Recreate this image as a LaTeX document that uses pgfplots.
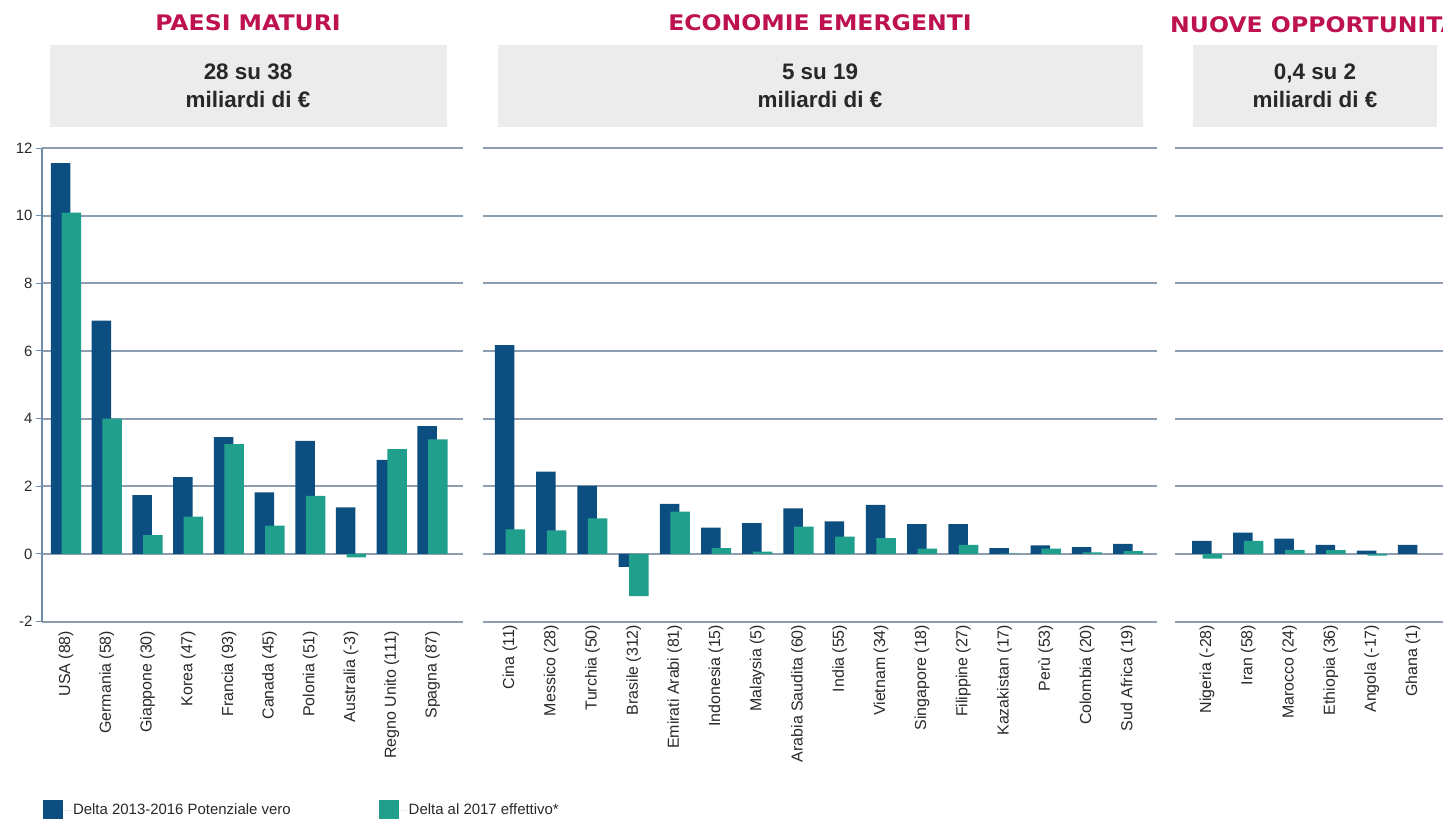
\documentclass[border=0pt]{standalone}
\usepackage{pgfplots}
\pgfplotsset{compat=1.18}
\usepackage{fontspec}
\setmainfont{Liberation Sans}
\newfontfamily\titlefont[FakeStretch=1.1]{DejaVu Sans}
\definecolor{darkb}{RGB}{12,78,128}
\definecolor{tealc}{RGB}{32,160,140}
\definecolor{gridc}{RGB}{140,158,176}
\definecolor{axc}{RGB}{110,140,170}
\definecolor{titc}{RGB}{190,18,80}
\definecolor{boxc}{RGB}{236,236,236}
\definecolor{labc}{RGB}{40,40,40}

\pgfplotsset{
 panel/.style={
   scale only axis, height=473.6bp,
   ymin=-2, ymax=12, ytick={-2,0,2,4,6,8,10,12},
   ymajorgrids, grid style={draw=gridc, line width=1.8bp},
   separate axis lines, axis lines*=left,
   x axis line style={draw=none}, xtick style={draw=none},
   xticklabel style={rotate=90, anchor=east, font=\fontsize{16}{18}\selectfont, text=labc, inner sep=3bp},
   /pgf/number format/assume math mode=true,
   yticklabel style={font=\fontsize{15}{17}\selectfont, text=labc},
   clip=false,
 },
 noy/.style={y axis line style={draw=none}, ytick style={draw=none}, yticklabels={}},
 db/.style={ybar, bar width=19.5bp, bar shift=-5.3bp, fill=darkb, draw=none},
 tb/.style={ybar, bar width=19.5bp, bar shift=5.3bp, fill=tealc, draw=none},
}

\begin{document}
\begin{tikzpicture}
\path[use as bounding box] (0,0) rectangle (1443bp,-819bp);

% panel headers
\node[font=\titlefont\fontsize{21.5}{24}\selectfont\bfseries, text=titc] at (248bp,-23bp) {PAESI MATURI};
\node[font=\titlefont\fontsize{21.5}{24}\selectfont\bfseries, text=titc] at (820bp,-23bp) {ECONOMIE EMERGENTI};
\node[font=\titlefont\fontsize{21.5}{24}\selectfont\bfseries, text=titc, anchor=west, inner sep=0pt] at (1170bp,-23bp) {NUOVE OPPORTUNITÀ};

\fill[boxc] (50bp,-45bp) rectangle (447bp,-127bp);
\fill[boxc] (498bp,-45bp) rectangle (1143bp,-127bp);
\fill[boxc] (1193bp,-45bp) rectangle (1437bp,-127bp);
\node[align=center, font=\fontsize{22.5}{28}\selectfont\bfseries, text=labc] at (248bp,-86bp) {28 su 38\\miliardi di €};
\node[align=center, font=\fontsize{22.5}{28}\selectfont\bfseries, text=labc] at (820bp,-86bp) {5 su 19\\miliardi di €};
\node[align=center, font=\fontsize{22.5}{28}\selectfont\bfseries, text=labc] at (1315bp,-86bp) {0,4 su 2\\miliardi di €};

% Panel 1
\begin{axis}[panel, at={(42bp,-621.6bp)}, anchor=south west, width=421bp,
  xmin=-0.59, xmax=9.75, xtick={0,...,9},
  xticklabels={USA (88),Germania (58),Giappone (30),Korea (47),Francia (93),Canada (45),Polonia (51),Australia (-3),Regno Unito (111),Spagna (87)},
  y axis line style={draw=axc, line width=1.2bp}, ytick style={draw=axc, line width=1bp},
  tick align=outside, major tick length=6bp,
  legend image code/.code={\fill[#1] (0bp,-10bp) rectangle (20bp,10bp); \path (0bp,0bp) -- (28bp,0bp);},
  legend style={at={(-0.005,-0.398)}, anchor=west, draw=none, fill=none, legend columns=2,
    font=\fontsize{15}{17}\selectfont, text=labc, /tikz/every even column/.append style={column sep=86bp}},
  legend cell align=left]
\addplot[db] coordinates {(0,11.55) (1,6.90) (2,1.74) (3,2.27) (4,3.45) (5,1.82) (6,3.34) (7,1.38) (8,2.78) (9,3.78)};
\addplot[tb] coordinates {(0,10.09) (1,4.00) (2,0.56) (3,1.10) (4,3.25) (5,0.84) (6,1.72) (7,-0.10) (8,3.10) (9,3.39)};
\addlegendimage{fill=darkb, draw=none}
\addlegendentry{Delta 2013-2016 Potenziale vero}
\addlegendimage{fill=tealc, draw=none}
\addlegendentry{Delta al 2017 effettivo*}
\end{axis}

% Panel 2
\begin{axis}[panel, noy, at={(483bp,-621.6bp)}, anchor=south west, width=674bp,
  xmin=-0.655, xmax=15.70, xtick={0,...,15},
  xticklabels={Cina (11),Messico (28),Turchia (50),Brasile (312),Emirati Arabi (81),Indonesia (15),Malaysia (5),Arabia Saudita (60),India (55),Vietnam (34),Singapore (18),Filippine (27),Kazakistan (17),Perù (53),Colombia (20),Sud Africa (19)}]
\addplot[db] coordinates {(0,6.17) (1,2.43) (2,2.01) (3,-0.38) (4,1.48) (5,0.78) (6,0.91) (7,1.35) (8,0.96) (9,1.45) (10,0.88) (11,0.88) (12,0.17) (13,0.25) (14,0.20) (15,0.30)};
\addplot[tb] coordinates {(0,0.73) (1,0.70) (2,1.05) (3,-1.25) (4,1.25) (5,0.17) (6,0.07) (7,0.81) (8,0.51) (9,0.47) (10,0.16) (11,0.27) (12,0.01) (13,0.16) (14,0.05) (15,0.08)};
\end{axis}

% Panel 3
\begin{axis}[panel, noy, at={(1175bp,-621.6bp)}, anchor=south west, width=275bp,
  xmin=-0.78, xmax=5.90, xtick={0,...,5},
  xticklabels={Nigeria (-28),Iran (58),Marocco (24),Ethiopia (36),Angola (-17),Ghana (1)}]
\addplot[db] coordinates {(0,0.39) (1,0.63) (2,0.45) (3,0.27) (4,0.10) (5,0.27)};
\addplot[tb] coordinates {(0,-0.14) (1,0.39) (2,0.12) (3,0.11) (4,-0.05) (5,0.00)};
\end{axis}
\end{tikzpicture}
\end{document}
